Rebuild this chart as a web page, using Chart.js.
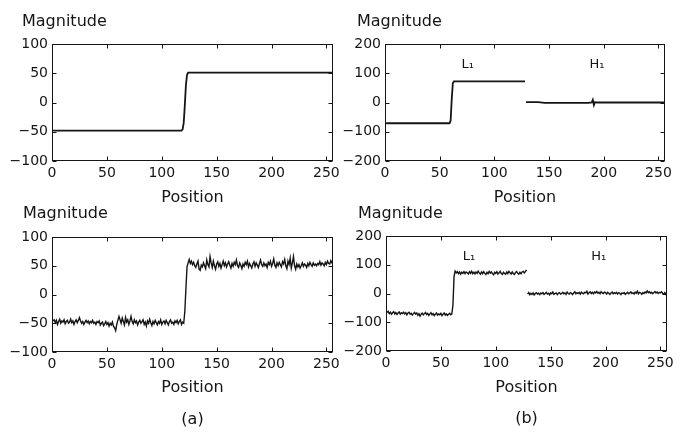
<!DOCTYPE html>
<html><head><meta charset="utf-8">
<script src="https://cdn.jsdelivr.net/npm/chart.js@4"></script>
<style>
html,body{margin:0;padding:0;background:#fff;width:684px;height:432px;overflow:hidden;position:relative;}
canvas{position:absolute;}
</style></head><body>
<canvas id="c1" width="342" height="216" style="left:0;top:0;width:342px;height:216px"></canvas>
<canvas id="c2" width="342" height="216" style="left:342px;top:0;width:342px;height:216px"></canvas>
<canvas id="c3" width="342" height="236" style="left:0;top:196px;width:342px;height:236px"></canvas>
<canvas id="c4" width="342" height="236" style="left:342px;top:196px;width:342px;height:236px"></canvas>
<script>
// ---------- data ----------
const xTicks = [0, 50, 100, 150, 200, 250];
const yTicksA = [-100, -50, 0, 50, 100];
const yTicksB = [-200, -100, 0, 100, 200];
const yLabel = 'Magnitude';
const xLabel = 'Position';
const panelTags = ['(a)', '(b)'];
const bandNames = ['L\u2081', 'H\u2081'];

// (a) top: clean step signal
const cleanPos = [1, 118, 119, 120, 121, 122, 123, 124, 256];
const cleanMag = [-48, -48, -46, -35, -5, 30, 47, 51, 51];

// (b) top: one-level transform of the clean signal
const cleanL1Pos = [1, 59, 60, 61, 62, 63, 128];
const cleanL1Mag = [-71, -71, -62, 10, 66, 72, 72];
const cleanH1Pos = [129, 140, 146, 160, 186, 189, 190, 191, 192, 194, 256];
const cleanH1Mag = [1, 1, -1, -1, -1, 0, 9, -9, 1, 0, 0];

// (a) bottom: noisy step signal, positions 1..256
const noisyMag = [
 -46,-44,-49,-45,-52,-47,-43,-50,-46,-48,-44,-51,-47,-45,-50,-48,
 -43,-49,-46,-52,-47,-44,-49,-45,-40,-46,-50,-47,-52,-48,-45,-49,
 -46,-51,-47,-49,-45,-50,-48,-52,-47,-49,-46,-53,-50,-48,-54,-51,
 -47,-52,-49,-55,-50,-53,-48,-55,-58,-63,-52,-45,-38,-44,-50,-41,
 -47,-53,-40,-48,-44,-52,-46,-38,-47,-51,-44,-49,-46,-53,-48,-45,
 -50,-47,-44,-52,-48,-55,-46,-50,-43,-49,-54,-47,-51,-45,-49,-53,
 -47,-50,-44,-52,-48,-46,-51,-45,-49,-53,-47,-44,-50,-48,-52,-46,
 -49,-45,-51,-47,-44,-52,-48,-50,-30, 10, 48, 55, 61, 54, 58, 52,
  56, 50, 47, 53, 58, 44, 42, 51, 48, 55, 50, 45, 60, 52, 48, 66,
  55, 47, 58, 50, 44, 53, 57, 49, 54, 46, 52, 58, 50, 55, 48, 53,
  57, 51, 46, 54, 49, 56, 52, 60, 50, 47, 55, 51, 45, 53, 49, 56,
  52, 58, 48, 54, 50, 46, 53, 57, 49, 55, 51, 47, 54, 60, 52, 49,
  55, 50, 53, 47, 56, 52, 58, 49, 54, 62, 51, 47, 55, 50, 56, 52,
  48, 57, 53, 61, 50, 45, 58, 52, 63, 46, 55, 66, 50, 44, 53, 48,
  52, 46, 50, 55, 49, 53, 51, 47, 54, 50, 56, 52, 49, 55, 51, 53,
  50, 54, 52, 57, 51, 55, 53, 50, 56, 52, 58, 54, 53, 59, 55, 57
];

// (b) bottom: L1 at positions 1..128, H1 at positions 129..256
const noisyL1Mag = [
 -66,-62,-70,-65,-72,-67,-63,-71,-66,-73,-68,-64,-72,-67,-70,-65,
 -71,-67,-74,-68,-65,-72,-69,-75,-70,-66,-72,-68,-76,-70,-79,-72,
 -68,-74,-70,-66,-73,-69,-76,-71,-67,-74,-70,-77,-72,-68,-75,-71,
 -74,-69,-77,-72,-68,-75,-71,-76,-72,-69,-74,-71,-40, 60, 78, 72,
  76, 69, 75, 67, 74, 70, 76, 69, 75, 72, 68, 76, 70, 77, 69, 74,
  68, 75, 70, 78, 72, 67, 75, 69, 76, 70, 66, 74, 69, 77, 71, 75,
  69, 65, 74, 70, 76, 68, 72, 77, 69, 66, 74, 70, 67, 75, 69, 77,
  72, 68, 75, 69, 66, 73, 76, 70, 67, 74, 69, 75, 77, 72, 76, 82
];
const noisyH1Mag = [
  -2,  3, -4,  1, -3,  2, -5,  0,  3, -2,  1, -4,  2, -1,  3, -3,
   0,  4, -2,  1, -5,  2, -1,  5, -3,  0,  2, -4,  1,  3, -2,  0,
   4, -1,  2, -3,  5,  0, -2,  3,  1, -4,  2,  6, -1,  3,  0,  4,
  -2,  5,  1, -1,  4,  2,  8, -2,  3,  6,  0,  4, -1,  5,  2,  7,
   1,  4, -1,  6,  2,  0,  5,  3, -2,  4,  1, -3,  2,  5, -1,  3,
   0,  4, -2,  3,  1, -4,  2,  0,  3, -3,  1,  4, -1,  2,  6,  0,
   3, -2,  5,  1,  8, -1,  4,  2, -3,  3,  0,  5,  2,  9,  3,  6,
   1,  4, -1,  3,  7,  2,  5,  0,  4,  2,  6,  1, -2,  3, -4, -6
];

// ---------- helpers ----------
const FONT = "'DejaVu Sans', 'Liberation Sans', sans-serif";
const INK = '#151515';
Chart.defaults.font.family = FONT;
Chart.defaults.color = INK;

const pairs = (xs, ys) => xs.map((x, i) => ({x, y: ys[i]}));
const seq = (ys, start) => ys.map((y, i) => ({x: start + i, y}));
const fmt = v => (v < 0 ? '\u2212' + Math.abs(v) : String(v));

const framePlugin = {
  id: 'frame',
  afterDatasetsDraw(chart) {
    const {ctx, chartArea: a, scales: {x, y}} = chart;
    const L = Math.round(a.left) + 0.5, R = Math.round(a.right) - 0.5;
    const T = Math.round(a.top) + 0.5, B = Math.round(a.bottom) - 0.5;
    ctx.save();
    ctx.strokeStyle = INK;
    ctx.lineWidth = 1;
    ctx.strokeRect(L, T, R - L, B - T);
    ctx.beginPath();
    const tl = 4;
    x.ticks.forEach(t => {
      const p = Math.round(x.getPixelForValue(t.value)) + 0.5;
      ctx.moveTo(p, B); ctx.lineTo(p, B - tl);
      ctx.moveTo(p, T); ctx.lineTo(p, T + tl);
    });
    y.ticks.forEach(t => {
      const p = Math.round(y.getPixelForValue(t.value)) + 0.5;
      ctx.moveTo(L, p); ctx.lineTo(L + tl, p);
      ctx.moveTo(R, p); ctx.lineTo(R - tl, p);
    });
    ctx.stroke();
    ctx.restore();
  }
};

// y-axis caption drawn horizontally above the axis, as in the original figure
function captionPlugin(dx, dy) {
  return {
    id: 'caption',
    afterDraw(chart) {
      const {ctx, chartArea: a} = chart;
      ctx.save();
      ctx.fillStyle = INK;
      ctx.font = '16px ' + FONT;
      ctx.textAlign = 'left';
      ctx.textBaseline = 'middle';
      ctx.fillText(yLabel, a.left - dx, a.top - dy);
      ctx.restore();
    }
  };
}

function bandPlugin(items) {
  return {
    id: 'bands',
    afterDatasetsDraw(chart) {
      const {ctx, scales: {x, y}} = chart;
      ctx.save();
      ctx.fillStyle = INK;
      ctx.font = '13px ' + FONT;
      ctx.textAlign = 'left';
      ctx.textBaseline = 'middle';
      items.forEach(it => ctx.fillText(it.text, x.getPixelForValue(it.x), y.getPixelForValue(it.y)));
      ctx.restore();
    }
  };
}

function lineSet(width) {
  return data => ({data, borderColor: INK, borderWidth: width, pointRadius: 0, tension: 0, fill: false});
}

function makeChart(id, o) {
  const zeroPad = s => { s.paddingLeft = 0; s.paddingRight = 0; s.paddingTop = 0; s.paddingBottom = 0; };
  const yTickVals = o.yTicks;
  const plugins = [framePlugin, captionPlugin(o.capDx, o.capDy)];
  if (o.bands) plugins.push(bandPlugin(o.bands));
  return new Chart(document.getElementById(id), {
    type: 'line',
    data: {datasets: o.datasets.map(lineSet(o.lineWidth))},
    options: {
      responsive: false,
      animation: false,
      events: [],
      layout: {padding: {left: 0, right: o.padRight, top: o.padTop, bottom: 0}},
      plugins: {
        legend: {display: false},
        tooltip: {enabled: false},
        title: {display: false}
      },
      scales: {
        x: {
          type: 'linear', min: 0, max: 256,
          grid: {display: false, drawTicks: false},
          border: {display: false},
          ticks: {padding: 4, maxRotation: 0, autoSkip: false,
                  font: {size: 14}, color: INK, callback: v => fmt(v)},
          afterBuildTicks: s => { s.ticks = xTicks.map(v => ({value: v})); },
          title: {display: true, text: o.xTitle, color: INK,
                  font: {size: 16, lineHeight: o.xLineHeight || 1.2},
                  padding: {top: 0, bottom: o.xTitlePadBottom}},
          afterFit: s => { s.height = o.xHeight; zeroPad(s); }
        },
        y: {
          type: 'linear', min: yTickVals[0], max: yTickVals[yTickVals.length - 1],
          grid: {display: false, drawTicks: false},
          border: {display: false},
          ticks: {padding: 4, font: {size: 14}, color: INK, callback: v => fmt(v)},
          afterBuildTicks: s => { s.ticks = yTickVals.map(v => ({value: v})); },
          afterFit: s => { s.width = o.yWidth; zeroPad(s); }
        }
      }
    },
    plugins
  });
}

// top-left: clean signal
makeChart('c1', {
  datasets: [pairs(cleanPos, cleanMag)], lineWidth: 1.8,
  yTicks: yTicksA, padTop: 44, padRight: 9, yWidth: 52, capDx: 30, capDy: 22,
  xHeight: 55, xTitle: xLabel, xTitlePadBottom: 8.4
});
// top-right: transform of clean signal
makeChart('c2', {
  datasets: [pairs(cleanL1Pos, cleanL1Mag), pairs(cleanH1Pos, cleanH1Mag)], lineWidth: 1.8,
  yTicks: yTicksB, padTop: 44, padRight: 19, yWidth: 43, capDx: 28, capDy: 22,
  xHeight: 55, xTitle: xLabel, xTitlePadBottom: 8.4,
  bands: [{text: bandNames[0], x: 70, y: 131}, {text: bandNames[1], x: 187, y: 131}]
});
// bottom-left: noisy signal
makeChart('c3', {
  datasets: [seq(noisyMag, 1)], lineWidth: 1.4,
  yTicks: yTicksA, padTop: 41, padRight: 9, yWidth: 52, capDx: 29, capDy: 23,
  xHeight: 80, xTitle: [xLabel, panelTags[0]], xLineHeight: 1.97, xTitlePadBottom: -3.25
});
// bottom-right: transform of noisy signal
makeChart('c4', {
  datasets: [seq(noisyL1Mag, 1), seq(noisyH1Mag, 129)], lineWidth: 1.4,
  yTicks: yTicksB, padTop: 40, padRight: 17, yWidth: 44, capDx: 28, capDy: 22,
  xHeight: 81, xTitle: [xLabel, panelTags[1]], xLineHeight: 1.97, xTitlePadBottom: -3,
  bands: [{text: bandNames[0], x: 70, y: 128}, {text: bandNames[1], x: 187, y: 128}]
});
</script>
</body></html>
